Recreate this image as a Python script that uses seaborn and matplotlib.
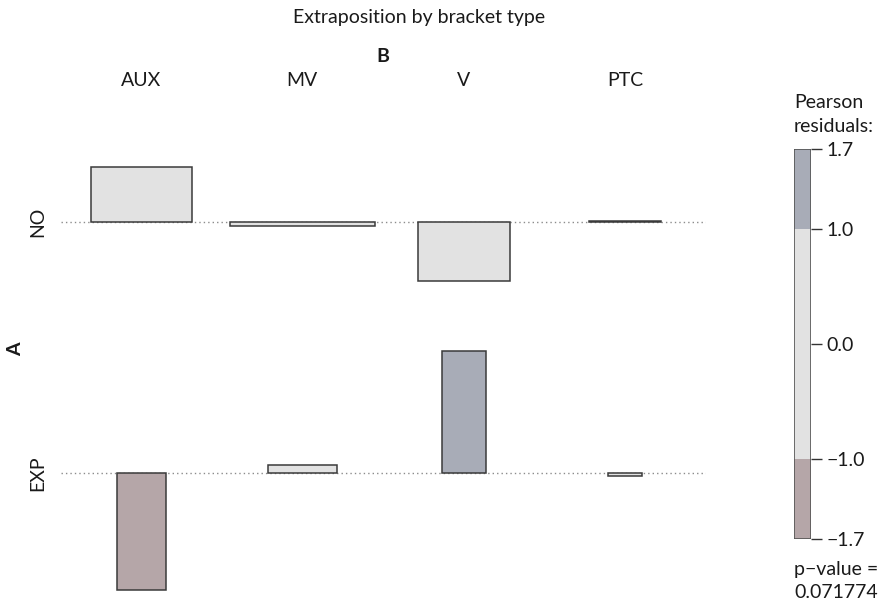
import numpy as np
import matplotlib
matplotlib.use("Agg")
import matplotlib.pyplot as plt
from matplotlib.patches import Rectangle
import seaborn as sns

# ---- data -------------------------------------------------------------
title = "Extraposition by bracket type"
col_var = "B"
row_var = "A"
col_levels = ["AUX", "MV", "V", "PTC"]
row_levels = ["NO", "EXP"]

# Pearson residuals per cell (rows NO / EXP)
residuals_no = [0.77, -0.06, -0.82, 0.02]
residuals_exp = [-1.63, 0.11, 1.70, -0.04]

# expected frequencies per cell (bar width ~ sqrt(expected))
expected_no = [102.0, 210.3, 84.6, 51.8]
expected_exp = [24.0, 47.6, 19.4, 11.6]

legend_title = ["Pearson", "residuals:"]
p_value_label = ["p\u2212value =", "0.071774"]

# ---- style ------------------------------------------------------------
sns.set_theme(style="white")
plt.rcParams["font.family"] = ["Lato", "DejaVu Sans"]
plt.rcParams["axes.unicode_minus"] = True

W, H = 889, 605
fig = plt.figure(figsize=(W / 100, H / 100), dpi=100)


def fx(px):
    return px / W


def fy(py):
    return 1 - py / H


FS = 14
TXT = "#1A1A1A"
grey = "#E2E2E2"
blue = "#A8ACB7"
pink = "#B5A6A8"
edge = "#3A3A3A"


def shade(r):
    if r > 1:
        return blue
    if r < -1:
        return pink
    return grey


residuals = np.array([residuals_no, residuals_exp])
expected = np.array([expected_no, expected_exp])
root_e = np.sqrt(expected)
widths = 0.9 * root_e / root_e.max()

# baselines: each row gets room for its largest negative and the next row's largest positive box
row_gap = 0.98
baselines = [0.0]
for i in range(1, len(row_levels)):
    drop = max(0, -residuals[i - 1].min()) + max(0, residuals[i].max()) + row_gap
    baselines.append(baselines[-1] - drop)

# ---- main association panel ------------------------------------------
px_per_unit = 71.8
left_px, right_px = 60.5, 705.5
top_px, bot_px = 130, 605
base0_px = 222
ax = fig.add_axes([fx(left_px), fy(bot_px), fx(right_px - left_px), (bot_px - top_px) / H])
ax.set_xlim(-0.5, len(col_levels) - 0.5)
ax.set_ylim(-(bot_px - base0_px) / px_per_unit, (base0_px - top_px) / px_per_unit)
ax.axis("off")

xs = np.arange(len(col_levels))
for i, lvl in enumerate(row_levels):
    b = baselines[i]
    ax.plot([-0.5, len(col_levels) - 0.5], [b, b], color="#8C8C8C",
            linestyle=(0, (1, 2.2)), linewidth=1.0, zorder=1)
    ax.bar(xs, residuals[i], width=widths[i], bottom=b,
           color=[shade(r) for r in residuals[i]], edgecolor=edge,
           linewidth=1.1, zorder=2)
    # row level label
    ybase = fy(base0_px) - (0 - b) * px_per_unit / H
    fig.text(fx(37.5), ybase, lvl, rotation=90, ha="center", va="center", fontsize=FS,
             color=TXT)

fig.text(fx(16), fy(349), row_var, rotation=90, ha="center", va="center",
         fontsize=FS, fontweight="bold", color=TXT)

# column labels
for j, lvl in enumerate(col_levels):
    xc = left_px + (j + 0.5) * (right_px - left_px) / len(col_levels)
    fig.text(fx(xc), fy(81), lvl, ha="center", va="center", fontsize=FS, color=TXT)
fig.text(fx((left_px + right_px) / 2), fy(56), col_var, ha="center", va="center",
         fontsize=FS, fontweight="bold", color=TXT)

fig.text(fx(419), fy(17), title, ha="center", va="center", fontsize=FS, color=TXT)

# ---- shading legend ---------------------------------------------------
rmax = np.abs(residuals).max()
cax = fig.add_axes([fx(794), fy(539), fx(17), (539 - 149) / H])
cax.set_xlim(0, 1)
cax.set_ylim(-rmax, rmax)
for lo, hi, c in [(-rmax, -1, pink), (-1, 1, grey), (1, rmax, blue)]:
    cax.add_patch(Rectangle((0, lo), 1, hi - lo, facecolor=c, edgecolor="none"))
cax.add_patch(Rectangle((0, -rmax), 1, 2 * rmax, facecolor="none", edgecolor="#555555",
                        linewidth=1.2))
for s in cax.spines.values():
    s.set_visible(False)
cax.set_xticks([])
ticks = [rmax, 1.0, 0.0, -1.0, -rmax]
cax.yaxis.tick_right()
cax.set_yticks(ticks)
cax.set_yticklabels([f"{t:.1f}".replace("-", "\u2212") for t in ticks], fontsize=FS,
                    color=TXT)
cax.tick_params(axis="y", right=True, left=False, length=8, width=1.0, color="#333333",
                pad=3, direction="out")

fig.text(fx(794), fy(102), legend_title[0], ha="left", va="center", fontsize=FS, color=TXT)
fig.text(fx(794), fy(127), legend_title[1], ha="left", va="center", fontsize=FS, color=TXT)
fig.text(fx(794), fy(570), p_value_label[0], ha="left", va="center", fontsize=FS, color=TXT)
fig.text(fx(794), fy(593), p_value_label[1], ha="left", va="center", fontsize=FS, color=TXT)

fig.savefig("out.png", dpi=100, facecolor="white")
